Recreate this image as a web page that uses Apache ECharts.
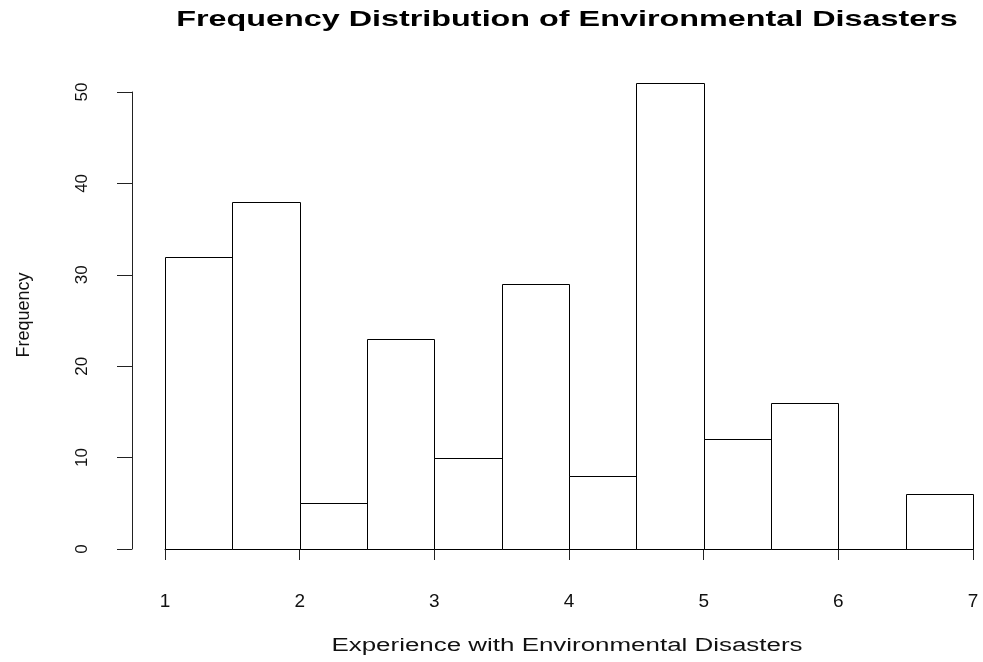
<!DOCTYPE html>
<html>
<head>
<meta charset="utf-8">
<script src="https://cdn.jsdelivr.net/npm/echarts@6/dist/echarts.min.js"></script>
<style>
html,body{margin:0;padding:0;background:#fff;}
#chart{width:983px;height:662px;}
</style>
</head>
<body>
<div id="chart"></div>
<script>
var chartTitle = 'Frequency Distribution of Environmental Disasters';
var xAxisTitle = 'Experience with Environmental Disasters';
var yAxisTitle = 'Frequency';
var binStarts = [1, 1.5, 2, 2.5, 3, 3.5, 4, 4.5, 5, 5.5, 6, 6.5];
var binEnds   = [1.5, 2, 2.5, 3, 3.5, 4, 4.5, 5, 5.5, 6, 6.5, 7];
var frequencies = [32, 38, 5, 23, 10, 29, 8, 51, 12, 16, 0, 6];
var xTicks = [1, 2, 3, 4, 5, 6, 7];
var yTicks = [0, 10, 20, 30, 40, 50];

var data = binStarts.map(function (s, i) { return [s, binEnds[i], frequencies[i]]; });

var chart = echarts.init(document.getElementById('chart'), null, {renderer: 'canvas'});
var FONT = '"Liberation Sans", Arial, sans-serif';

function crisp(v) { return Math.round(v) + 0.5; }

chart.setOption({
  animation: false,
  backgroundColor: '#ffffff',
  grid: {left: 165, right: 10, top: 92, bottom: 113, containLabel: false},
  xAxis: {
    type: 'value',
    min: xTicks[0], max: xTicks[xTicks.length - 1], interval: 1,
    offset: 19,
    splitLine: {show: false},
    axisLine: {show: true, lineStyle: {color: '#222', width: 1}},
    axisTick: {show: true, length: 11, lineStyle: {color: '#222', width: 1}},
    axisLabel: {show: true, color: '#111', fontSize: 19, fontFamily: FONT, margin: 24,
      formatter: function (v) { return xTicks.indexOf(v) >= 0 ? String(v) : ''; }}
  },
  yAxis: {
    type: 'value',
    min: yTicks[0], max: yTicks[yTicks.length - 1], interval: 10,
    offset: 33,
    splitLine: {show: false},
    axisLine: {show: true, lineStyle: {color: '#222', width: 1}},
    axisTick: {show: true, length: 15, lineStyle: {color: '#222', width: 1}},
    axisLabel: {show: true, color: '#111', fontSize: 17, fontFamily: FONT, rotate: 90, margin: 41}
  },
  graphic: [
    {type: 'text', x: 567, y: 20, scaleX: 1.47,
      style: {text: chartTitle, font: 'bold 22px ' + FONT, fill: '#000', textAlign: 'center', textVerticalAlign: 'middle'}},
    {type: 'text', x: 567, y: 646, scaleX: 1.44,
      style: {text: xAxisTitle, font: '18px ' + FONT, fill: '#111', textAlign: 'center', textVerticalAlign: 'middle'}},
    {type: 'text', x: 24, y: 315, rotation: Math.PI / 2,
      style: {text: yAxisTitle, font: '18px ' + FONT, fill: '#111', textAlign: 'center', textVerticalAlign: 'middle'}}
  ],
  series: [{
    type: 'custom',
    clip: false,
    encode: {x: [0, 1], y: 2},
    data: data,
    renderItem: function (params, api) {
      var p0 = api.coord([api.value(0), api.value(2)]);
      var p1 = api.coord([api.value(1), 0]);
      var x0 = crisp(p0[0]), x1 = crisp(p1[0]);
      var y0 = crisp(p0[1]), y1 = crisp(p1[1]);
      return {
        type: 'rect',
        shape: {x: x0, y: y0, width: x1 - x0, height: y1 - y0},
        style: {fill: '#ffffff', stroke: '#000000', lineWidth: 1}
      };
    }
  }]
});
</script>
</body>
</html>
